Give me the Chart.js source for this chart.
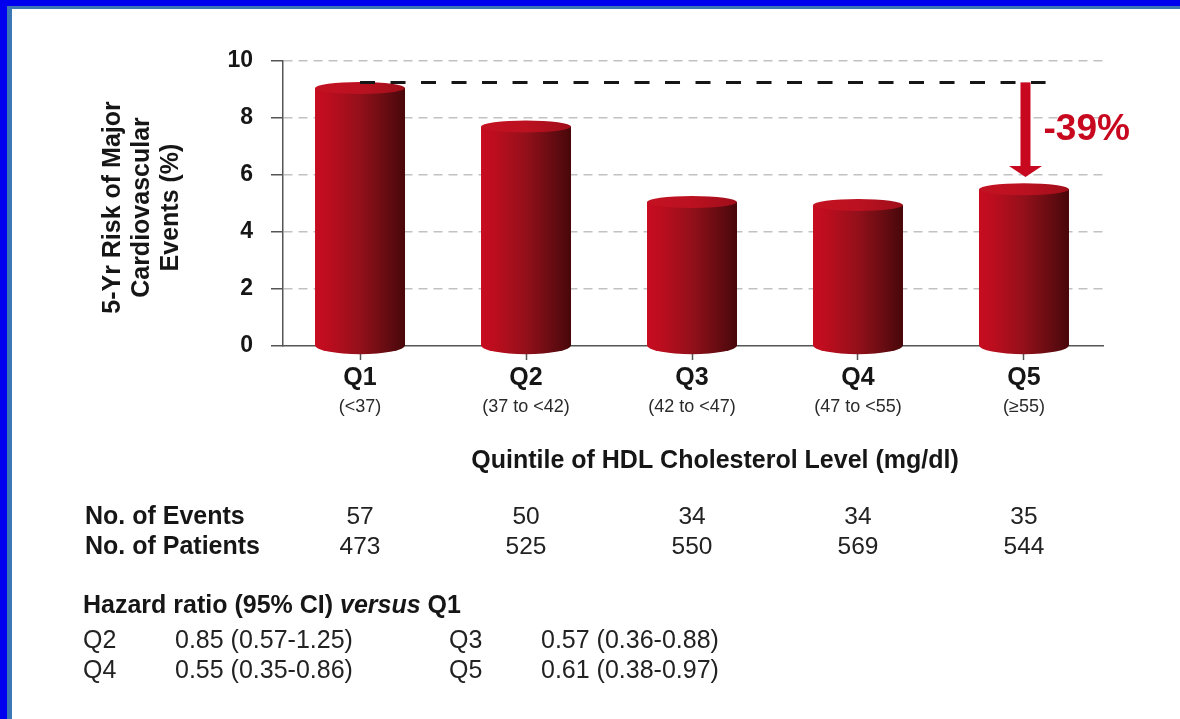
<!DOCTYPE html>
<html>
<head>
<meta charset="utf-8">
<script src="https://cdn.jsdelivr.net/npm/chart.js@4.4.1/dist/chart.umd.min.js"></script>
<style>
  html, body { margin: 0; padding: 0; background: #fff; overflow: hidden; }
  canvas { display: block; }
</style>
</head>
<body>
<canvas id="c" width="1180" height="719"></canvas>
<script>
// Quintiles of HDL cholesterol and 5-year risk of major cardiovascular events
const categories = ['Q1', 'Q2', 'Q3', 'Q4', 'Q5'];
const ranges = ['(<37)', '(37 to <42)', '(42 to <47)', '(47 to <55)', '(\u226555)'];
const risk = [9.05, 7.7, 5.05, 4.95, 5.5];
const yTicks = [0, 2, 4, 6, 8, 10];

// counts under each quintile
const events = [57, 50, 34, 34, 35];
const patients = [473, 525, 550, 569, 544];

// hazard ratios versus Q1
const hrLabels = ['Q2', 'Q3', 'Q4', 'Q5'];
const hrValues = ['0.85 (0.57-1.25)', '0.57 (0.36-0.88)', '0.55 (0.35-0.86)', '0.61 (0.38-0.97)'];

// Q1 reference level, its horizontal reach, and the drop arrow onto Q5
const refLevel = 9.25;
const refSpan = [0, 4.13];
const arrowSpan = [9.25, 5.93];
const arrowAt = 4;
const reductionLabel = '-39%';

const FAMILY = '"Liberation Sans", Arial, Helvetica, sans-serif';
const font = (size, weight = '', style = '') => `${style} ${weight} ${size}px ${FAMILY}`.trim();
const INK = '#161616';
const RED = '#c8081e';

function drawCylinder(c, x, top, base, w) {
  const rx = w / 2, ryTop = 6, ryBot = 9;
  const body = c.createLinearGradient(x - rx, 0, x + rx, 0);
  body.addColorStop(0, '#c80c20');
  body.addColorStop(0.15, '#bc0d1e');
  body.addColorStop(0.5, '#93101a');
  body.addColorStop(0.85, '#5e0b10');
  body.addColorStop(1, '#480709');
  c.save();
  c.fillStyle = body;
  c.beginPath();
  c.moveTo(x - rx, top);
  c.lineTo(x - rx, base);
  c.ellipse(x, base, rx, ryBot, 0, Math.PI, 0, true);
  c.lineTo(x + rx, top);
  c.closePath();
  c.fill();
  const cap = c.createLinearGradient(x - rx, 0, x + rx, 0);
  cap.addColorStop(0, '#c41222');
  cap.addColorStop(0.5, '#bb1120');
  cap.addColorStop(1, '#a00e1a');
  c.fillStyle = cap;
  c.beginPath();
  c.ellipse(x, top, rx, ryTop, 0, 0, Math.PI * 2);
  c.fill();
  c.restore();
}

const decor = {
  id: 'decor',
  beforeDraw(chart) {
    const c = chart.ctx, W = chart.width, H = chart.height;
    c.save();
    c.fillStyle = '#fff';
    c.fillRect(0, 0, W, H);
    c.fillStyle = '#0000ee';
    c.fillRect(0, 0, W, 6);
    c.fillRect(0, 0, 7, H);
    c.fillStyle = '#3b78b5';
    c.fillRect(7, 6, W - 7, 3);
    c.fillRect(7, 6, 5, H - 6);
    c.restore();
  },
  afterDatasetsDraw(chart) {
    const c = chart.ctx;
    const xs = chart.scales.x, ys = chart.scales.y;
    chart.getDatasetMeta(0).data.forEach(bar => {
      const p = bar.getProps(['x', 'y', 'base', 'width'], true);
      drawCylinder(c, p.x, p.y, p.base, p.width);
    });

    // dashed Q1 reference line
    c.save();
    c.strokeStyle = INK;
    c.lineWidth = 3;
    c.setLineDash([15, 15.5]);
    c.beginPath();
    c.moveTo(xs.getPixelForValue(refSpan[0]), ys.getPixelForValue(refLevel));
    c.lineTo(xs.getPixelForValue(refSpan[1]), ys.getPixelForValue(refLevel));
    c.stroke();
    c.restore();

    // drop arrow
    const ax = xs.getPixelForValue(arrowAt) + 1.5;
    const y0 = ys.getPixelForValue(arrowSpan[0]);
    const y1 = ys.getPixelForValue(arrowSpan[1]);
    const head = 11;
    c.save();
    c.fillStyle = RED;
    c.fillRect(ax - 5, y0, 10, y1 - head - y0 + 1);
    c.beginPath();
    c.moveTo(ax - 16.5, y1 - head);
    c.lineTo(ax + 16.5, y1 - head);
    c.lineTo(ax, y1);
    c.closePath();
    c.fill();
    c.font = font(37, 'bold');
    c.textAlign = 'left';
    c.textBaseline = 'middle';
    c.fillText(reductionLabel, ax + 18, (y0 + y1) / 2);
    c.restore();
  },
  afterDraw(chart) {
    const c = chart.ctx;
    const xs = chart.scales.x, ys = chart.scales.y;
    c.save();
    c.fillStyle = INK;
    c.textBaseline = 'middle';

    // category labels
    c.textAlign = 'center';
    categories.forEach((q, i) => {
      const x = xs.getPixelForValue(i);
      c.font = font(25, 'bold');
      c.fillStyle = INK;
      c.fillText(q, x, 378);
      c.font = font(18);
      c.fillStyle = '#2a2a2a';
      c.fillText(ranges[i], x, 407);
    });

    // x title
    c.fillStyle = INK;
    c.font = font(25, 'bold');
    c.fillText('Quintile of HDL Cholesterol Level (mg/dl)', 715, 461);

    // y title
    const yMid = (ys.top + ys.bottom) / 2 + 4;
    c.save();
    c.translate(142, yMid);
    c.rotate(-Math.PI / 2);
    c.font = font(25, 'bold');
    ['5-Yr Risk of Major', 'Cardiovascular', 'Events (%)'].forEach((t, k) => {
      c.fillText(t, 0, (k - 1) * 29);
    });
    c.restore();

    // events / patients table
    c.textAlign = 'left';
    c.font = font(25, 'bold');
    c.fillText('No. of Events', 85, 517);
    c.fillText('No. of Patients', 85, 547);
    c.textAlign = 'center';
    c.font = font(24.5);
    c.fillStyle = '#222';
    events.forEach((v, i) => c.fillText(String(v), xs.getPixelForValue(i), 517));
    patients.forEach((v, i) => c.fillText(String(v), xs.getPixelForValue(i), 547));

    // hazard ratios
    c.fillStyle = INK;
    c.textAlign = 'left';
    let hx = 83;
    const hy = 606;
    c.font = font(25, 'bold');
    c.fillText('Hazard ratio (95% CI) ', hx, hy);
    hx += c.measureText('Hazard ratio (95% CI) ').width;
    c.font = font(25, 'bold', 'italic');
    c.fillText('versus', hx, hy);
    hx += c.measureText('versus').width;
    c.font = font(25, 'bold');
    c.fillText(' Q1', hx, hy);

    c.font = font(25);
    c.fillStyle = '#222';
    const colQ = [83, 449], colV = [175, 541], rowY = [641, 671];
    hrLabels.forEach((q, i) => {
      const r = Math.floor(i / 2), k = i % 2;
      c.fillText(q, colQ[k], rowY[r]);
      c.fillText(hrValues[i], colV[k], rowY[r]);
    });
    c.restore();
  }
};

new Chart(document.getElementById('c'), {
  type: 'bar',
  data: {
    datasets: [{
      data: risk.map((v, i) => ({ x: i, y: v })),
      backgroundColor: 'rgba(0,0,0,0)',
      borderWidth: 0,
      barThickness: 90
    }]
  },
  options: {
    responsive: false,
    animation: false,
    events: [],
    layout: { padding: { top: 61, right: 77, left: 0, bottom: 0 } },
    plugins: { legend: { display: false }, tooltip: { enabled: false } },
    scales: {
      x: {
        type: 'linear',
        min: -0.464,
        max: 4.476,
        offset: false,
        afterBuildTicks: s => { s.ticks = categories.map((_, i) => ({ value: i })); },
        afterFit: s => { s.height = 373; },
        ticks: { display: false },
        grid: { offset: false, drawOnChartArea: false, drawTicks: true, tickLength: 14, tickColor: '#555', tickWidth: 1.5 },
        border: { color: '#555', width: 1.5 }
      },
      y: {
        min: 0,
        max: 10,
        afterBuildTicks: s => { s.ticks = yTicks.map(v => ({ value: v })); },
        afterFit: s => { s.width = 283; },
        ticks: { color: INK, padding: 18, font: { family: FAMILY, size: 23, weight: 'bold' } },
        grid: {
          color: c => (c.tick && c.tick.value === 0) ? 'rgba(0,0,0,0)' : '#c2c2c2',
          lineWidth: 1.5,
          tickLength: 12,
          tickColor: '#555',
          tickWidth: 1.5
        },
        border: { color: '#555', width: 1.5, dash: [9, 6] }
      }
    }
  },
  plugins: [decor]
});
</script>
</body>
</html>
